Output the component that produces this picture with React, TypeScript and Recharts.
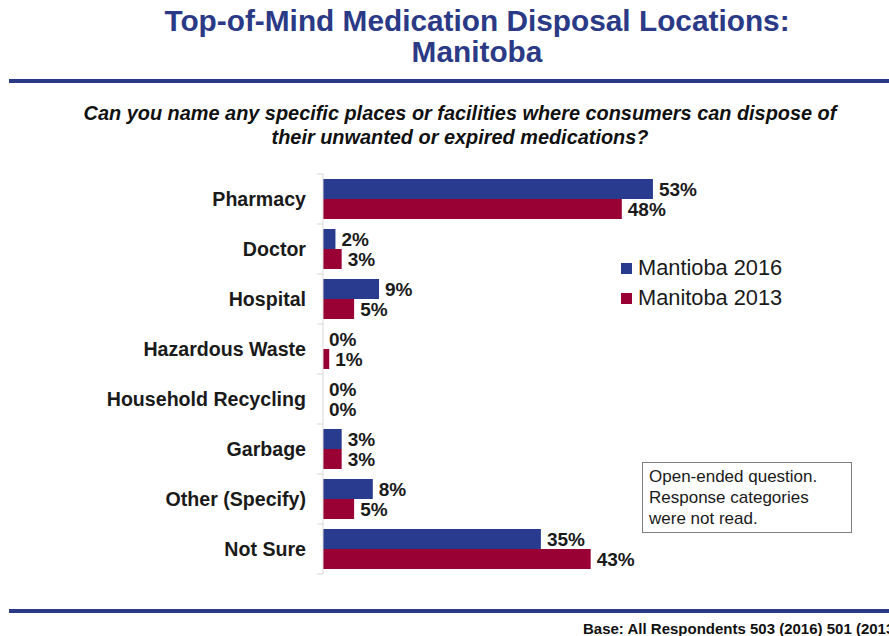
import { Bar, BarChart, LabelList, Legend, XAxis, YAxis } from 'recharts';

const categories = ['Pharmacy', 'Doctor', 'Hospital', 'Hazardous Waste', 'Household Recycling', 'Garbage', 'Other (Specify)', 'Not Sure'];
const manitoba2016 = [53, 2, 9, 0, 0, 3, 8, 35];
const manitoba2013 = [48, 3, 5, 1, 0, 3, 5, 43];
const seriesNames = ['Mantioba 2016', 'Manitoba 2013'];

const data = categories.map((label, i) => ({ label, y2016: manitoba2016[i], y2013: manitoba2013[i] }));

const BLUE = '#283B8E';
const RED = '#990033';
const NAVY = '#2B3A86';
const FONT = "'Liberation Sans', Arial, sans-serif";

const CHART_W = 889;
const CHART_H = 636;
const MARGIN = { top: 174, right: 68, bottom: 62, left: 103 };
const BAND_HALF = (CHART_H - MARGIN.top - MARGIN.bottom) / categories.length / 2;

const CategoryTick = ({ x, y, payload, index }: any) => (
  <g>
    <line x1={x + 11} x2={x + 17} y1={y - BAND_HALF} y2={y - BAND_HALF} stroke="#D9D9D9" />
    {index === categories.length - 1 ? (
      <line x1={x + 11} x2={x + 17} y1={y + BAND_HALF} y2={y + BAND_HALF} stroke="#D9D9D9" />
    ) : null}
    <text x={x} y={y} dy={7} textAnchor="end" fontFamily={FONT} fontSize={19.6} fontWeight="bold" fill="#1a1a1a">
      {payload.value}
    </text>
  </g>
);

// keep the legend in series order (2016 first)
const LegendBox = ({ payload }: any) => {
  const items = [...(payload || [])].sort((a: any, b: any) => seriesNames.indexOf(a.value) - seriesNames.indexOf(b.value));
  return (
    <div style={{ fontFamily: FONT, fontSize: 21.8, color: '#1a1a1a' }}>
      {items.map((entry: any) => (
        <div key={entry.value} style={{ display: 'flex', alignItems: 'center', height: 30 }}>
          <span style={{ width: 11, height: 11, background: entry.color, marginRight: 6, display: 'inline-block' }} />
          <span>{entry.value}</span>
        </div>
      ))}
    </div>
  );
};

const percent = (v: any) => `${v}%`;

export default function App() {
  return (
    <div style={{ position: 'absolute', left: 0, top: 0, width: CHART_W, height: CHART_H, overflow: 'hidden', background: '#fff', fontFamily: FONT }}>
      <div style={{ position: 'absolute', left: 0, width: 954, top: 5, textAlign: 'center', color: NAVY, fontWeight: 'bold', fontSize: 29.8, lineHeight: '31px' }}>
        Top-of-Mind Medication Disposal Locations:
        <br />
        Manitoba
      </div>
      <div style={{ position: 'absolute', left: 9, right: 0, top: 79, height: 4, background: NAVY }} />
      <div style={{ position: 'absolute', left: 0, width: 920, top: 101, textAlign: 'center', color: '#111', fontWeight: 'bold', fontStyle: 'italic', fontSize: 19.9, lineHeight: '24px' }}>
        Can you name any specific places or facilities where consumers can dispose of
        <br />
        their unwanted or expired medications?
      </div>

      <div style={{ position: 'absolute', left: 0, top: 0 }}>
        <BarChart width={CHART_W} height={CHART_H} data={data} layout="vertical" margin={MARGIN} barCategoryGap="10%" barGap={0}>
          <XAxis type="number" domain={[0, 80]} hide />
          <YAxis
            type="category"
            dataKey="label"
            width={220}
            axisLine={{ stroke: '#D9D9D9' }}
            tickLine={false}
            tickSize={0}
            tickMargin={17}
            tick={<CategoryTick />}
            interval={0}
          />
          <Legend
            layout="horizontal"
            verticalAlign="middle"
            align="center"
            content={<LegendBox />}
            wrapperStyle={{ left: 621, top: 253, width: 'auto' }}
          />
          <Bar dataKey="y2016" name={seriesNames[0]} fill={BLUE} minPointSize={0.01} isAnimationActive={false}>
            <LabelList dataKey="y2016" position="right" offset={6} formatter={percent} fill="#1a1a1a" fontSize={19} fontWeight="bold" fontFamily={FONT} />
          </Bar>
          <Bar dataKey="y2013" name={seriesNames[1]} fill={RED} minPointSize={0.01} isAnimationActive={false}>
            <LabelList dataKey="y2013" position="right" offset={6} formatter={percent} fill="#1a1a1a" fontSize={19} fontWeight="bold" fontFamily={FONT} />
          </Bar>
        </BarChart>
      </div>

      <div style={{ position: 'absolute', left: 642, top: 462, width: 196, height: 63, border: '1px solid #7F7F7F', padding: '3px 6px', fontSize: 17, lineHeight: '21px', color: '#1a1a1a' }}>
        Open-ended question.
        <br />
        Response categories
        <br />
        were not read.
      </div>

      <div style={{ position: 'absolute', left: 9, right: 0, top: 609, height: 4, background: NAVY }} />
      <div style={{ position: 'absolute', left: 583, top: 620, whiteSpace: 'nowrap', fontSize: 15, fontWeight: 'bold', color: '#111' }}>
        Base: All Respondents 503 (2016) 501 (2013)
      </div>
    </div>
  );
}
